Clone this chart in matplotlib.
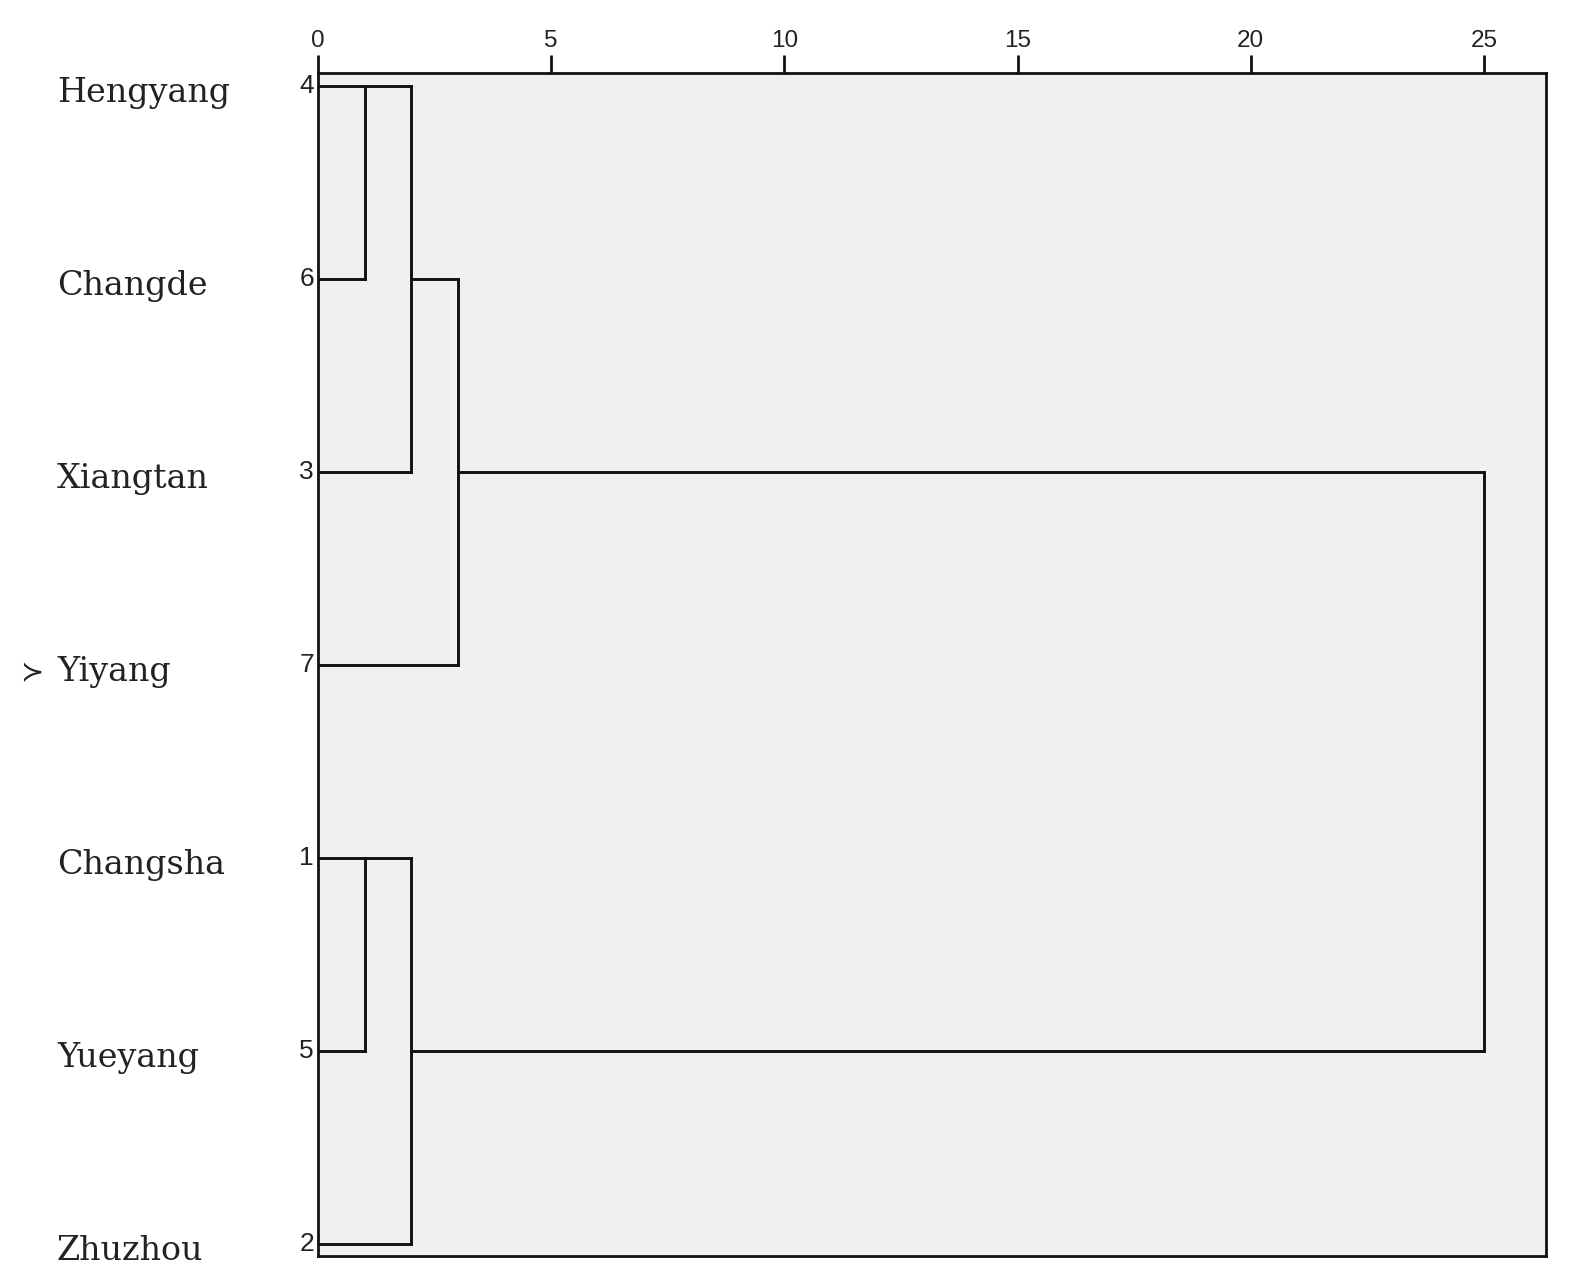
import matplotlib
matplotlib.use("Agg")
import matplotlib.pyplot as plt
from matplotlib.transforms import blended_transform_factory, offset_copy
import math

# Data
labels = ["Hengyang", "Changde", "Xiangtan", "Yiyang", "Changsha", "Yueyang", "Zhuzhou"]
case_ids = [4, 6, 3, 7, 1, 5, 2]
# merges (scipy-like numbering: leaves 0..6, new clusters 7..)
merge_a = [0, 4, 7, 8, 9, 11]
merge_b = [1, 5, 2, 6, 3, 10]
merge_h = [1, 1, 2, 2, 3, 25]
xticks = [0, 5, 10, 15, 20, 25]

W, H = 1575, 1284
fig = plt.figure(figsize=(W / 100, H / 100), dpi=100)
L, R, T, B = 318, 1546, 73, 1256
ax = fig.add_axes([L / W, 1 - B / H, (R - L) / W, (B - T) / H])
ax.set_facecolor("#f0f0f0")

px_per_x = (1484 - L) / 25.0
ax.set_xlim(0, (R - L) / px_per_x)
y0, y6 = 86, 1244
px_per_y = (y6 - y0) / 6.0
ax.set_ylim(6 + (B - y6) / px_per_y, -(y0 - T) / px_per_y)

n = len(labels)
pos = {i: i for i in range(n)}
height = {i: 0 for i in range(n)}
lw = 2.1
for k, (a, b, h) in enumerate(zip(merge_a, merge_b, merge_h)):
    ya, yb = pos[a], pos[b]
    ax.plot([h, h], [ya, yb], color="#111111", lw=lw, solid_capstyle="projecting")
    ax.plot([height[a], h], [ya, ya], color="#111111", lw=lw, solid_capstyle="projecting")
    ax.plot([height[b], h], [yb, yb], color="#111111", lw=lw, solid_capstyle="projecting")
    new = n + k
    pos[new] = math.floor((ya + yb) / 2)
    height[new] = h

for s in ax.spines.values():
    s.set_color("#111111")
    s.set_linewidth(2.0)

ax.xaxis.tick_top()
ax.set_xticks(xticks)
ax.set_xticklabels([str(t) for t in xticks], fontsize=17.5, family="Liberation Sans",
                   color="#222222")
ax.tick_params(axis="x", direction="out", length=13, width=2.0, pad=2, color="#111111")
ax.set_yticks([])

trans = blended_transform_factory(fig.transFigure, ax.transData)
for i, (lab, cid) in enumerate(zip(labels, case_ids)):
    t = offset_copy(trans, fig=fig, x=0, y=-11.5, units="points")
    fig.text(57 / W, i, lab, transform=t, ha="left", va="baseline",
             fontsize=24, family="DejaVu Serif", color="#222222")
    fig.text(314 / W, i, str(cid), transform=trans, ha="right", va="center",
             fontsize=19, family="Liberation Sans", color="#222222")

t = offset_copy(trans, fig=fig, x=0, y=-11.5, units="points")
fig.text(20 / W, 3, "\u227b", transform=t, ha="left", va="baseline",
         fontsize=20, family="DejaVu Sans", color="#222222")

fig.savefig("out.png", dpi=100, facecolor="white")
